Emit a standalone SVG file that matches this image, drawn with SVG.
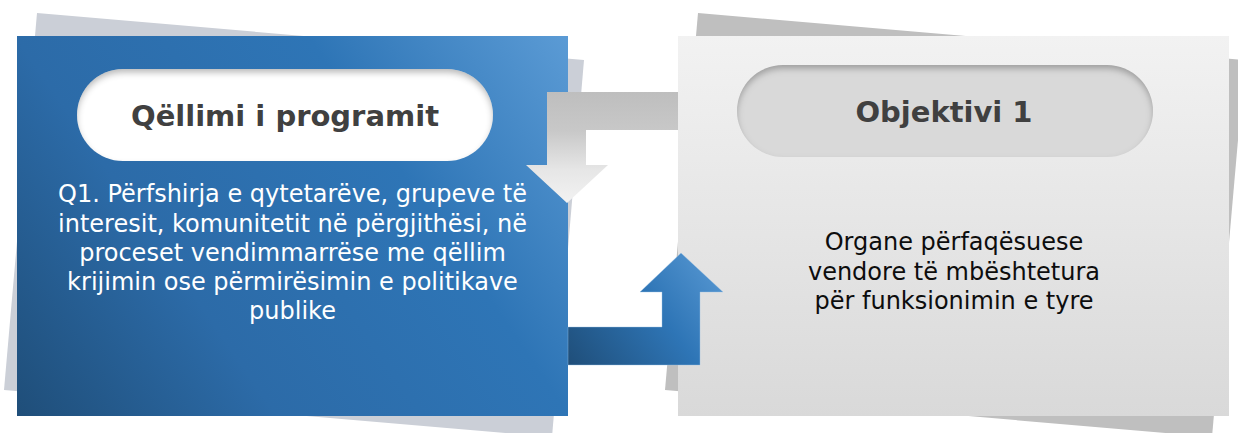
<svg xmlns="http://www.w3.org/2000/svg" width="1238" height="433" viewBox="0 0 1238 433">
  <defs>
    <style>
      .title { font-family: "DejaVu Sans", Verdana, sans-serif; font-weight: bold; font-size: 29px; fill: #404040; text-anchor: middle; }
      .body { font-family: "DejaVu Sans", Verdana, sans-serif; font-size: 24px; text-anchor: middle; }
      .white { fill: #FFFFFF; }
      .dark { fill: #0D0D0D; }
    </style>
    <linearGradient id="gBlue" gradientUnits="userSpaceOnUse" x1="17" y1="416" x2="568" y2="36">
      <stop offset="0" stop-color="#1F4E79"/>
      <stop offset="0.32" stop-color="#2C6BA8"/>
      <stop offset="0.68" stop-color="#2E75B6"/>
      <stop offset="1" stop-color="#5B9BD5"/>
    </linearGradient>
    <linearGradient id="gLight" x1="0" y1="0" x2="0" y2="1">
      <stop offset="0" stop-color="#F2F2F2"/>
      <stop offset="1" stop-color="#D9D9D9"/>
    </linearGradient>
    <linearGradient id="gGrayArrow" gradientUnits="userSpaceOnUse" x1="0" y1="92" x2="0" y2="203">
      <stop offset="0" stop-color="#BEBEBE"/>
      <stop offset="0.35" stop-color="#C8C8C8"/>
      <stop offset="0.7" stop-color="#E6E6E6"/>
      <stop offset="1" stop-color="#F2F2F2"/>
    </linearGradient>
    <linearGradient id="gBlueArrow" gradientUnits="userSpaceOnUse" x1="568" y1="365" x2="723" y2="253">
      <stop offset="0" stop-color="#1F4E79"/>
      <stop offset="0.55" stop-color="#2E75B6"/>
      <stop offset="1" stop-color="#5B9BD5"/>
    </linearGradient>
    <filter id="inset" x="-5%" y="-20%" width="110%" height="140%">
      <feFlood flood-color="#000000" flood-opacity="0.5" result="flood"/>
      <feComposite in="flood" in2="SourceAlpha" operator="out" result="outside"/>
      <feGaussianBlur in="outside" stdDeviation="3" result="blur"/>
      <feOffset in="blur" dy="4" result="off"/>
      <feComposite in="off" in2="SourceAlpha" operator="in" result="inner"/>
      <feMerge>
        <feMergeNode in="SourceGraphic"/>
        <feMergeNode in="inner"/>
      </feMerge>
    </filter>
  </defs>

  <g id="node-qellimi">
    <polygon points="37,13 584,60 552,437 4,390" fill="#CBCFD7"/>
    <rect x="17" y="36" width="551" height="380" fill="url(#gBlue)"/>
    <rect x="77" y="69" width="416" height="92" rx="46" ry="46" fill="#FFFFFF" filter="url(#inset)"/>
    <text class="title" x="285" y="125.5" textLength="308" lengthAdjust="spacing">Qëllimi i programit</text>
    <text class="body white" x="292.5" y="202">Q1. Përfshirja e qytetarëve, grupeve të</text>
    <text class="body white" x="292.5" y="231.5">interesit, komunitetit në përgjithësi, në</text>
    <text class="body white" x="292.5" y="260.5">proceset vendimmarrëse me qëllim</text>
    <text class="body white" x="292.5" y="289.5">krijimin ose përmirësimin e politikave</text>
    <text class="body white" x="292.5" y="318.5">publike</text>
  </g>

  <g id="node-objektivi">
    <polygon points="698,13 1245,60 1212,437 665,390" fill="#BFBFBF"/>
    <rect x="678" y="36" width="551" height="380" fill="url(#gLight)"/>
    <rect x="737" y="65" width="416" height="92" rx="46" ry="46" fill="#D9D9D9" filter="url(#inset)"/>
    <text class="title" x="944" y="122" textLength="177" lengthAdjust="spacing">Objektivi 1</text>
    <text class="body dark" x="954" y="250">Organe përfaqësuese</text>
    <text class="body dark" x="954" y="279.5">vendore të mbështetura</text>
    <text class="body dark" x="954" y="308.5">për funksionimin e tyre</text>
  </g>

  <g id="connectors">
    <path d="M678,92 H547 V165 H526 L567,203 L608,165 H586 V130 H678 Z" fill="url(#gGrayArrow)"/>
    <path d="M568,327 H662 V292 H640 L681,253 L723,292 H700 V365 H568 Z" fill="url(#gBlueArrow)" stroke="#9DC3E6" stroke-opacity="0.5" stroke-width="0.8"/>
  </g>
</svg>
